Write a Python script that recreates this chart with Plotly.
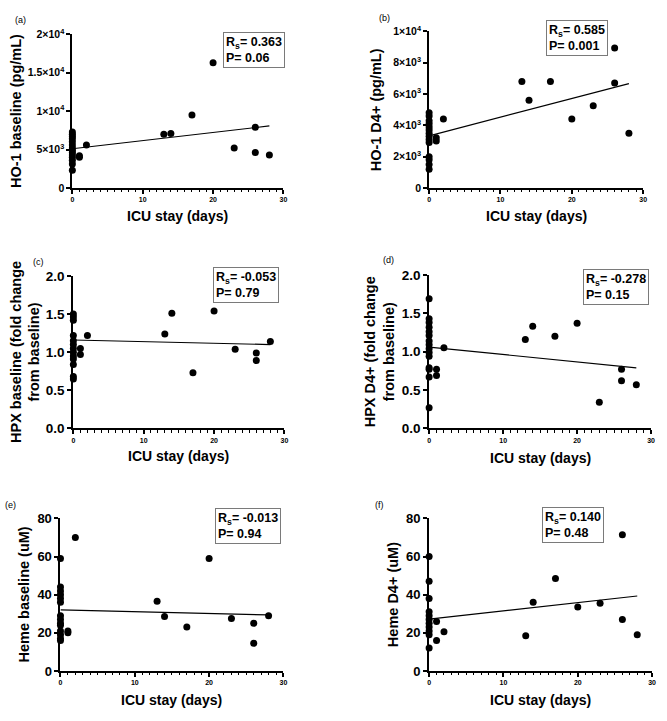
import plotly.graph_objects as go

# ---------------- data ----------------
icu_label = "ICU stay (days)"
panel_tags = ["(a)", "(b)", "(c)", "(d)", "(e)", "(f)"]

a_x = [0, 0, 0, 0, 0, 0, 0, 0, 0, 0, 0, 0, 0, 0, 1, 1, 2, 13, 14, 17, 20, 23, 26, 26, 28]
a_y = [7300, 7000, 6700, 6400, 6000, 5600, 5200, 4900, 4600, 4300, 4000, 3600, 3100, 2300,
       4000, 4200, 5600, 7000, 7100, 9500, 16300, 5200, 7900, 4600, 4300]
a_fit = [5100, 8070]

b_x = [0, 0, 0, 0, 0, 0, 0, 0, 0, 0, 0, 0, 0, 0, 1, 1, 2, 13, 14, 17, 20, 23, 26, 26, 28]
b_y = [4800, 4600, 4300, 4100, 3900, 3700, 3500, 3300, 3100, 2900, 2000, 1800, 1500, 1200,
       3200, 3000, 4400, 6800, 5600, 6800, 4400, 5250, 8950, 6700, 3500]
b_fit = [3330, 6670]

c_x = [0, 0, 0, 0, 0, 0, 0, 0, 0, 0, 0, 0, 0, 1, 1, 2, 13, 14, 17, 20, 23, 26, 26, 28]
c_y = [1.50, 1.46, 1.42, 1.22, 1.15, 1.10, 1.05, 1.00, 0.95, 0.91, 0.84, 0.68, 0.65,
       1.05, 0.97, 1.22, 1.24, 1.51, 0.73, 1.54, 1.04, 0.99, 0.89, 1.14]
c_fit = [1.16, 1.10]

d_x = [0, 0, 0, 0, 0, 0, 0, 0, 0, 0, 0, 0, 0, 0, 0, 1, 1, 2, 13, 14, 17, 20, 23, 26, 26, 28]
d_y = [1.69, 1.43, 1.38, 1.32, 1.26, 1.21, 1.14, 1.09, 1.04, 0.99, 0.94, 0.79, 0.77, 0.67, 0.27,
       0.77, 0.69, 1.05, 1.16, 1.33, 1.20, 1.37, 0.34, 0.77, 0.62, 0.57]
d_fit = [1.06, 0.79]

e_x = [0, 0, 0, 0, 0, 0, 0, 0, 0, 0, 0, 0, 0, 0, 1, 1, 2, 13, 14, 17, 20, 23, 26, 26, 28]
e_y = [59, 44, 42, 40, 38, 36, 29, 27, 25, 24, 21, 19, 17, 16,
       21, 20, 70, 36.5, 28.5, 23, 59, 27.5, 25, 14.5, 29]
e_fit = [32, 29.4]

f_x = [0, 0, 0, 0, 0, 0, 0, 0, 0, 0, 0, 1, 1, 2, 13, 14, 17, 20, 23, 26, 26, 28]
f_y = [60, 47, 38, 31, 29, 27, 25, 23, 21, 19, 12,
       26, 16, 20.5, 18.5, 36, 48.5, 33.5, 35.5, 71.5, 27, 19]
f_fit = [27.2, 39.3]

fit_x = [0, 28]

y_titles = ["HO-1 baseline (pg/mL)", "HO-1 D4+ (pg/mL)",
            "HPX baseline (fold change<br>from baseline)", "HPX D4+ (fold change<br>from baseline)",
            "Heme baseline (uM)", "Heme D4+ (uM)"]
rs_text = ["0.363", "0.585", "-0.053", "-0.278", "-0.013", "0.140"]
p_text = ["0.06", "0.001", "0.79", "0.15", "0.94", "0.48"]

a_ticks = [0, 5000, 10000, 15000, 20000]
a_ticktext = ["0", "5×10<sup>3</sup>", "1×10<sup>4</sup>", "1.5×10<sup>4</sup>", "2×10<sup>4</sup>"]
b_ticks = [0, 2000, 4000, 6000, 8000, 10000]
b_ticktext = ["0", "2×10<sup>3</sup>", "4×10<sup>3</sup>", "6×10<sup>3</sup>", "8×10<sup>3</sup>", "1×10<sup>4</sup>"]
hpx_ticks = [0, 0.5, 1.0, 1.5, 2.0]
hpx_ticktext = ["0.0", "0.5", "1.0", "1.5", "2.0"]
heme_ticks = [0, 20, 40, 60, 80]
heme_ticktext = ["0", "20", "40", "60", "80"]
x_ticks = [0, 10, 20, 30]

# ---------------- layout geometry (pixels) ----------------
W, H = 667, 721
# (x0, x1, y_bottom_px, y_top_px)
boxes = [
    (71, 284, 184, 27),
    (431, 647, 184, 24),
    (72, 285, 430, 274),
    (431, 655, 430, 273),
    (59, 284, 678, 522),
    (431, 656, 678, 522),
]
yranges = [[0, 20000], [0, 10000], [0, 2], [0, 2], [0, 80], [0, 80]]
yticks = [(a_ticks, a_ticktext), (b_ticks, b_ticktext), (hpx_ticks, hpx_ticktext),
          (hpx_ticks, hpx_ticktext), (heme_ticks, heme_ticktext), (heme_ticks, heme_ticktext)]
ytick_size = [10.5, 10.5, 13.5, 13.5, 13, 13]
data_x = [a_x, b_x, c_x, d_x, e_x, f_x]
data_y = [a_y, b_y, c_y, d_y, e_y, f_y]
fits = [a_fit, b_fit, c_fit, d_fit, e_fit, f_fit]

ytitle_x = [14, 377, 23, 381, 22, 394]
xtitle_y = [213, 213, 458, 460, 708, 708]
tag_pos = [(19, 12), (386, 10), (37, 260), (390, 258), (9, 508), (381, 508)]
stat_pos = [(223, 25), (549, 12), (213, 265), (586, 267), (215, 511), (545, 510)]

FONT = "Liberation Sans, Arial, sans-serif"

def px_x(v):
    return v / W

def px_y(v):
    return 1 - v / H

fig = go.Figure()
layout = dict(
    width=W, height=H,
    margin=dict(l=0, r=0, t=0, b=0),
    paper_bgcolor="white", plot_bgcolor="white",
    showlegend=False,
    font=dict(family=FONT, color="black"),
)
annotations = []

for i in range(6):
    n = "" if i == 0 else str(i + 1)
    xa, ya = "x" + n, "y" + n
    x0, x1, yb, yt = boxes[i]
    fig.add_trace(go.Scatter(
        x=data_x[i], y=data_y[i], mode="markers", xaxis=xa, yaxis=ya,
        marker=dict(color="black", size=7), cliponaxis=False, hoverinfo="skip"))
    fig.add_trace(go.Scatter(
        x=fit_x, y=fits[i], mode="lines", xaxis=xa, yaxis=ya,
        line=dict(color="black", width=1.2), cliponaxis=False, hoverinfo="skip"))

    layout["xaxis" + n] = dict(
        domain=[px_x(x0), px_x(x1)], anchor=ya, range=[0, 30], autorange=False,
        showline=True, linecolor="black", linewidth=2, showgrid=False, zeroline=False,
        ticks="outside", ticklen=4, tickwidth=1.5, tickcolor="black",
        tickvals=x_ticks, tickfont=dict(size=7, family=FONT, weight="bold"),
        minor=dict(ticks="outside", dtick=1, ticklen=2.5, tickwidth=1, tickcolor="black"),
        fixedrange=True,
    )
    tv, tt = yticks[i]
    layout["yaxis" + n] = dict(
        domain=[px_y(yb), px_y(yt)], anchor=xa, range=yranges[i], autorange=False,
        showline=True, linecolor="black", linewidth=2, showgrid=False, zeroline=False,
        ticks="outside", ticklen=4, tickwidth=2, tickcolor="black",
        tickvals=tv, ticktext=tt, tickfont=dict(size=ytick_size[i], family=FONT, weight="bold"),
        fixedrange=True,
    )

    # axis titles
    annotations.append(dict(
        text=y_titles[i], xref="paper", yref="paper", textangle=-90,
        x=px_x(ytitle_x[i]), y=px_y((yb + yt) / 2), xanchor="center", yanchor="middle",
        showarrow=False, font=dict(size=14.5, family=FONT, weight="bold")))
    annotations.append(dict(
        text=icu_label, xref="paper", yref="paper",
        x=px_x((x0 + x1) / 2), y=px_y(xtitle_y[i]), xanchor="center", yanchor="middle",
        showarrow=False, font=dict(size=14, family=FONT, weight="bold")))
    # panel tag
    tx, ty = tag_pos[i]
    annotations.append(dict(
        text=panel_tags[i], xref="paper", yref="paper", x=px_x(tx), y=px_y(ty),
        xanchor="center", yanchor="middle", showarrow=False,
        font=dict(size=9, family=FONT)))
    # statistics box
    sx, sy = stat_pos[i]
    annotations.append(dict(
        text="R<sub>s</sub>= " + rs_text[i] + "<br>P= " + p_text[i],
        xref="paper", yref="paper", x=px_x(sx), y=px_y(sy),
        xanchor="left", yanchor="top", align="left", showarrow=False,
        bordercolor="#7a7a7a", borderwidth=1, borderpad=2, bgcolor="white",
        font=dict(size=12.5, family=FONT, weight="bold")))

layout["annotations"] = annotations
fig.update_layout(**layout)
fig.write_html("out.html", config={"displayModeBar": False},
               post_script="document.body.style.margin='0px';")
